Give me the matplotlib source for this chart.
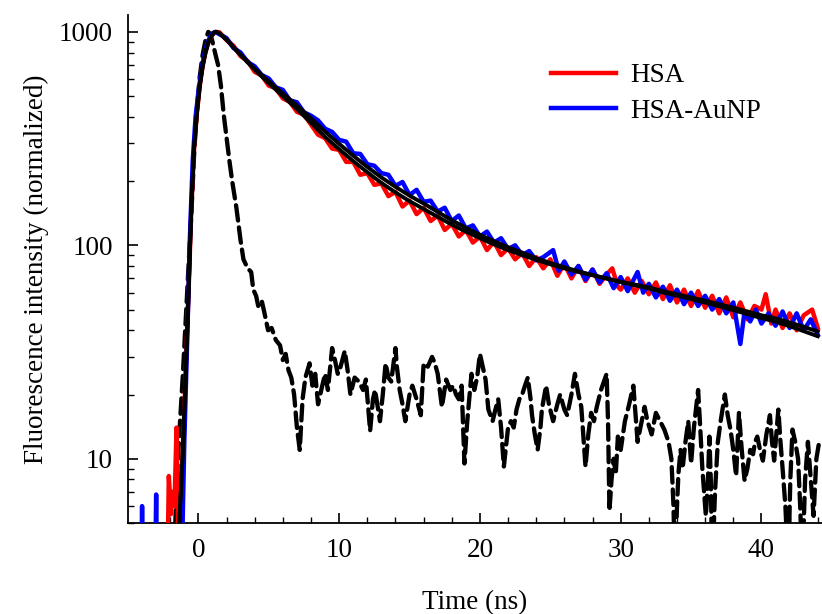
import numpy as np
import matplotlib
matplotlib.use("Agg")
import matplotlib.pyplot as plt
from matplotlib.ticker import LogLocator, MultipleLocator, NullFormatter, FixedLocator

plt.rcParams['font.family'] = ['Liberation Serif', 'DejaVu Serif']

# ---------------- data ----------------
# HSA measured decay (red)
t_hsa = [-5.0, -2.3, -2.1, -1.95, -1.85, -1.7, -1.55, -1.45, -1.3, -1.1, -0.9, -0.7, -0.5, -0.3,
         -0.1, 0.1, 0.3, 0.5, 0.7, 0.9, 1.1, 1.25,
         1.5, 2.0, 2.5, 3.0, 3.5, 4.0, 4.5, 5.0, 5.5, 6.0, 6.5, 7.0, 7.5, 8.0, 8.5, 9.0, 9.5,
         10.0, 10.5, 11.0, 11.5, 12.0, 12.5, 13.0, 13.5, 14.0, 14.5, 15.0, 15.5, 16.0, 16.5,
         17.0, 17.5, 18.0, 18.5, 19.0, 19.5, 20.0, 20.5, 21.0, 21.5, 22.0, 22.5, 23.0, 23.5,
         24.0, 24.5, 25.0, 25.5, 26.0, 26.5, 27.0, 27.5, 28.0, 28.5, 29.0, 29.4, 29.8, 30.0,
         30.5, 31.0, 31.5, 32.0, 32.5, 33.0, 33.5, 34.0, 34.5, 35.0, 35.5, 36.0, 36.5, 37.0,
         37.5, 38.0, 38.5, 39.0, 39.5, 40.0, 40.3, 40.7, 41.0, 41.5, 42.0, 42.5, 43.0, 43.6, 44.0]
v_hsa = [1, 1, 8.3, 5.5, 7, 6, 14, 5, 6, 11, 25, 60, 150, 290,
         420, 560, 690, 800, 890, 950, 990, 1000,
         995, 915, 860, 770, 730, 650, 625, 560, 545, 488, 470, 422, 410, 368, 330, 318, 284,
         280, 246, 246, 214, 218, 192, 195, 170, 178, 152, 162, 140, 150, 130,
         138, 118, 126, 110, 118, 103, 110, 95, 104, 90, 97, 86, 92, 80,
         88, 78, 86, 72, 82, 70, 80, 68, 77, 66, 73, 78, 64, 62,
         70, 60, 68, 59, 67, 56, 65, 54, 62, 52, 61, 51, 58, 48,
         57, 46, 54, 45, 52, 50, 59, 43, 50, 41, 48, 40, 47, 50, 41]

# HSA-AuNP measured decay (blue)
t_au = [-5.0, -4.15, -4.0, -3.85, -3.15, -3.0, -2.9, -1.3, -1.15, -1.0, -0.8, -0.6, -0.4, -0.2,
        0.0, 0.2, 0.4, 0.6, 0.8, 1.0, 1.2,
        1.5, 2.0, 2.5, 3.0, 3.5, 4.0, 4.5, 5.0, 5.5, 6.0, 6.5, 7.0, 7.5, 8.0, 8.5, 9.0, 9.5,
        10.0, 10.5, 11.0, 11.5, 12.0, 12.5, 13.0, 13.5, 14.0, 14.5, 15.0, 15.5, 16.0, 16.5,
        17.0, 17.5, 18.0, 18.5, 19.0, 19.5, 20.0, 20.5, 21.0, 21.5, 22.0, 22.5, 23.0, 23.5,
        24.0, 24.5, 25.2, 25.6, 26.0, 26.5, 27.0, 27.5, 28.0, 28.5, 29.0, 29.5, 30.0, 30.5,
        31.2, 31.6, 32.0, 32.5, 33.0, 33.5, 34.0, 34.5, 35.0, 35.5, 36.0, 36.5, 37.0, 37.5,
        38.0, 38.5, 38.8, 39.2, 39.6, 40.0, 40.5, 41.0, 41.5, 42.0, 42.5, 43.0, 43.5, 44.0]
v_au = [1, 1, 6.0, 1, 1, 6.8, 1, 1, 4, 12, 35, 110, 250, 400,
        520, 650, 770, 870, 940, 985, 1000,
        975, 935, 840, 800, 722, 690, 628, 605, 550, 535, 478, 468, 420, 405, 385, 352, 340,
        312, 306, 270, 268, 240, 236, 218, 214, 190, 198, 172, 182, 160, 162,
        144, 150, 130, 138, 120, 124, 110, 116, 103, 108, 96, 100, 90, 94,
        85, 88, 95, 76, 84, 73, 80, 69, 77, 67, 74, 63, 71, 61,
        75, 60, 66, 57, 64, 55, 62, 53, 60, 52, 58, 50, 56, 48,
        54, 34.5, 49, 44, 50, 43, 48, 42, 49, 41, 48, 40, 45, 38]

# fitted curves (black solid)
t_fit = [-1.5, -1.3, -1.1, -0.9, -0.7, -0.5, -0.3, -0.1, 0.1, 0.3, 0.5, 0.7, 0.9, 1.1, 1.25,
         1.5, 2.0, 2.5, 3.0, 3.5, 4.0, 5.0, 6.0, 7.0, 8.0, 9.0, 10.0, 11.0, 12.0, 13.0, 14.0,
         15.0, 16.0, 17.0, 18.0, 19.0, 20.0, 21.0, 22.0, 23.0, 24.0, 25.0, 26.0, 27.0, 28.0,
         29.0, 30.0, 31.0, 32.0, 33.0, 34.0, 35.0, 36.0, 37.0, 38.0, 39.0, 40.0, 41.0, 42.0,
         43.0, 44.0]
fit_hsa = [3, 6, 11, 25, 60, 150, 290, 420, 560, 690, 800, 890, 950, 990, 1000,
           985, 920, 845, 780, 720, 665, 575, 500, 435, 375, 322, 282, 248, 220, 196, 177,
           161, 148, 136, 125, 116, 108, 101, 95, 90, 85.5, 81.5, 78, 75, 72.5,
           70, 67.5, 65.5, 63.5, 61, 59, 57, 55, 53, 51, 49, 47, 45.5, 43.5,
           41.5, 39.5]
fit_au = [3, 6, 11, 25, 60, 150, 290, 420, 560, 690, 800, 890, 950, 990, 1000,
          985, 920, 845, 782, 725, 672, 587, 515, 452, 394, 341, 299, 263, 233, 208, 188,
          171, 157, 143.5, 131, 121, 112, 104.5, 98, 92.5, 87, 82.7, 79, 75.5, 72.5,
          69.8, 67.2, 65, 62.9, 60.2, 58.1, 56, 53.9, 51.8, 49.7, 47.6, 45.6, 43.9, 41.8,
          39.6, 37.5]

# instrument response function (black dashed)
t_irf = [-1.75, -1.6, -1.45, -1.3, -1.1, -0.9, -0.7, -0.5, -0.3, -0.1, 0.1, 0.3, 0.5, 0.7, 0.85,
         1.0, 1.2, 1.4, 1.6, 1.8, 2.0, 2.2, 2.4, 2.7, 3.0, 3.2, 3.5, 3.75, 3.9, 4.1, 4.25, 4.5,
         4.7, 4.95, 5.2, 5.5, 5.8, 6.0, 6.2, 6.4, 6.6, 6.8, 7.0, 7.2, 7.4, 7.6, 7.9, 8.1, 8.3,
         8.5, 8.8, 9.0, 9.2, 9.5, 9.7, 9.9, 10.1, 10.4, 10.6, 10.8, 11.1, 11.4, 11.7, 11.9,
         12.2, 12.4, 12.55, 12.9, 13.1, 13.3, 13.5, 13.7, 14.0, 14.1, 14.3, 14.5, 14.7, 15.0,
         15.2, 15.5, 15.8, 16.0, 16.3, 16.6, 16.8, 17.0, 17.3, 17.6, 17.9, 18.1, 18.3, 18.5,
         18.7, 18.9, 19.1, 19.4, 19.6, 19.8, 20.0, 20.2, 20.4, 20.6, 20.9, 21.1, 21.3, 21.5,
         21.7, 22.0, 22.2, 22.4, 22.6, 22.8, 23.0, 23.2, 23.4, 23.6, 23.7, 23.9, 24.1, 24.3,
         24.4, 24.7, 24.9, 25.2, 25.5, 25.7, 26.0, 26.2, 26.5, 26.75, 27.0, 27.2, 27.5, 27.7,
         27.9, 28.1, 28.3, 28.6, 29.0, 29.1, 29.2, 29.35, 29.5, 29.65, 29.8, 30.0, 30.3, 30.6,
         30.9, 31.0, 31.2, 31.4, 31.7, 31.9, 32.2, 32.5, 32.8, 33.1, 33.4, 33.6, 33.75, 33.85,
         34.0, 34.1, 34.25, 34.4, 34.6, 34.8, 35.0, 35.2, 35.5, 35.65, 35.8, 36.05, 36.2, 36.3,
         36.4, 36.5, 36.7, 36.9, 37.1, 37.4, 37.6, 37.8, 38.0, 38.2, 38.4, 38.6, 38.8, 39.0,
         39.2, 39.4, 39.55, 39.7, 39.9, 40.1, 40.35, 40.6, 40.75, 40.9, 41.05, 41.2, 41.35,
         41.5, 41.7, 41.9, 42.05, 42.2, 42.4, 42.6, 42.75, 42.9, 43.1, 43.3, 43.5, 43.7, 43.9,
         44.1]
v_irf = [3, 6, 10, 15, 25, 45, 80, 140, 270, 440, 620, 780, 910, 1000, 980,
         900, 790, 700, 560, 410, 320, 250, 200, 150, 105, 86, 78, 75, 62, 58, 52, 55,
         48, 40, 41, 36, 34, 29, 31, 26, 24, 20, 14, 11, 19, 24, 28, 22, 25,
         18, 22, 25, 21, 33, 29, 25, 27, 32, 26, 20, 24, 23, 21, 23.5,
         13.5, 19, 21, 15, 20, 28, 24, 23, 33, 27, 21, 18, 15, 20,
         22, 19, 16, 28, 27, 30, 28, 25, 17.5, 23.5, 21, 22, 20, 19,
         22, 9.5, 15, 25, 21, 24, 31, 27, 23.5, 17, 15, 17, 19, 14,
         9.2, 14, 15, 14, 17, 19, 20, 22, 24, 19, 16, 13, 11, 14,
         17, 22, 18, 15, 18, 20, 17, 16, 20, 25, 20, 17.5, 9.2, 13,
         16.4, 15, 17.5, 21, 25, 15, 5.7, 8, 10, 8.5, 12.7, 11, 15, 18,
         22, 18, 12, 14, 17.5, 15, 13, 16.4, 15, 13.7, 12, 10, 6, 3,
         6, 8.5, 11, 9, 12, 15, 9.5, 14, 21, 14, 9, 5.4, 8, 12.7,
         8, 3, 7, 12, 15, 20, 16, 13.7, 11, 8.3, 16.4, 11, 7.9, 9,
         11, 10.5, 12, 12.7, 11, 9.8, 13, 16, 12, 9.8, 13, 17, 12,
         9, 6, 3, 8, 13.7, 12, 10, 6, 3, 8, 12, 8, 5.4, 10,
         12]

x_ticks = [0, 10, 20, 30, 40]
y_ticks = [10, 100, 1000]
legend_labels = ["HSA", "HSA-AuNP"]

# ---------------- figure ----------------
FS = 19.5
fig = plt.figure(figsize=(8.22, 6.14), dpi=100)
ax = fig.add_axes([128/822, 1 - 523/614, 1 - 128/822, (523 - 15)/614])

ax.plot(t_irf, v_irf, color='black', lw=3.1, ls=(0, (3.6, 1.6)),
        dash_capstyle='round', zorder=2)
l1, = ax.plot(t_hsa, v_hsa, color='#ff0000', lw=3.2, zorder=3, label=legend_labels[0])
l2, = ax.plot(t_au, v_au, color='#0000ff', lw=3.2, zorder=4, label=legend_labels[1])
ax.plot(t_fit, fit_hsa, color='black', lw=2.8, zorder=5)
ax.plot(t_fit, fit_au, color='black', lw=2.8, zorder=5)

ax.set_yscale('log')
ax.set_xlim(-5, 44.3)
ax.set_ylim(5, 1200)

ax.xaxis.set_major_locator(FixedLocator(x_ticks))
ax.xaxis.set_minor_locator(MultipleLocator(2))
ax.yaxis.set_major_locator(FixedLocator(y_ticks))
ax.yaxis.set_minor_locator(LogLocator(base=10, subs=np.arange(2, 10), numticks=20))
ax.yaxis.set_minor_formatter(NullFormatter())
ax.set_yticklabels([str(v) for v in y_ticks])
ax.set_xticklabels([str(v) for v in x_ticks])

for s in ['top', 'right']:
    ax.spines[s].set_visible(False)
for s in ['left', 'bottom']:
    ax.spines[s].set_linewidth(1.3)

ax.tick_params(axis='both', which='major', direction='in', length=7, width=1.2,
               labelsize=FS, pad=11)
ax.tick_params(axis='both', which='minor', direction='in', length=4.5, width=1.0)

ax.set_xlabel('Time (ns)', fontsize=FS, labelpad=19)
ax.set_ylabel('Fluorescence intensity (normalized)', fontsize=FS, labelpad=7)

ax.legend(handles=[l1, l2], loc='upper left', bbox_to_anchor=(0.6095, 0.905),
          frameon=False, fontsize=FS, handlelength=2.4, handletextpad=0.52,
          labelspacing=0.39, borderpad=0, borderaxespad=0)

fig.savefig('out.png', dpi=100)
